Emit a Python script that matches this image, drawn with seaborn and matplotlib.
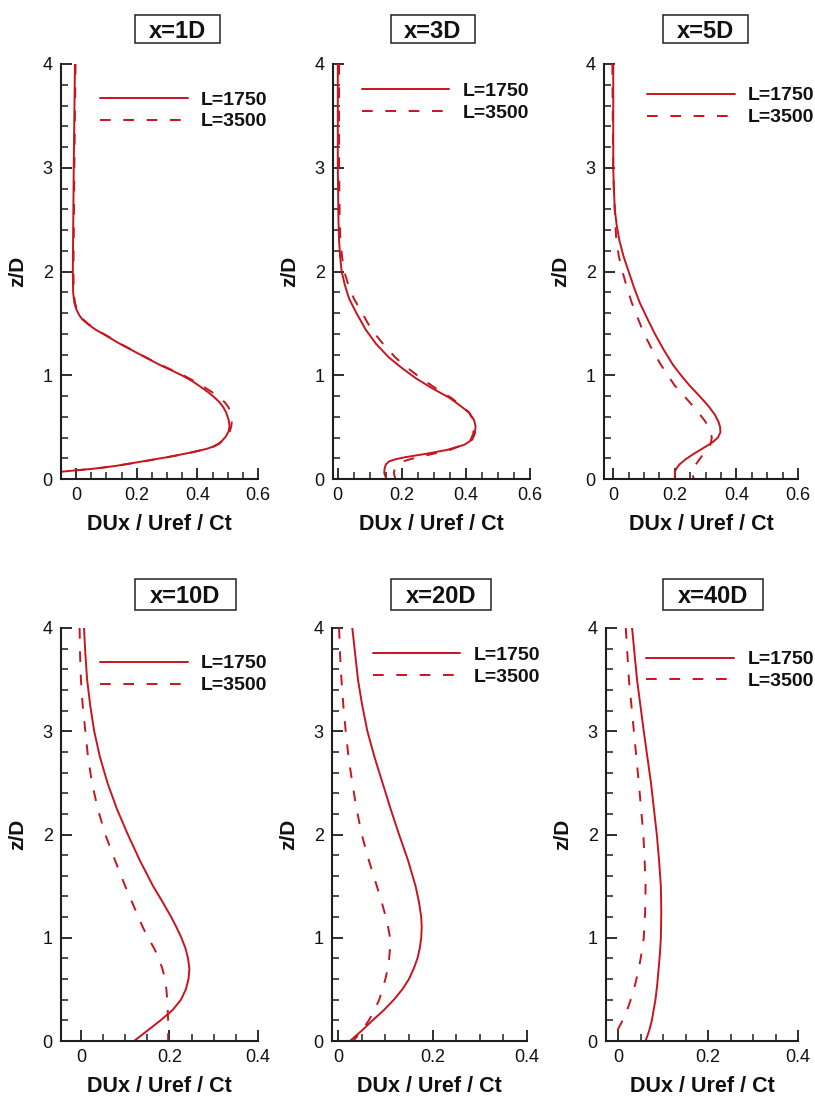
import numpy as np
import pandas as pd
import matplotlib
matplotlib.use("Agg")
import matplotlib.pyplot as plt
from matplotlib.patches import Rectangle
from matplotlib.ticker import MultipleLocator
import seaborn as sns

# ---------------- data ----------------
titles = ["x=1D", "x=3D", "x=5D", "x=10D", "x=20D", "x=40D"]
series_labels = ["L=1750", "L=3500"]
xlabel = "DUx / Uref / Ct"
ylabel = "z/D"

z_1D = [4.0, 3.0, 2.0, 1.8, 1.7, 1.64, 1.58, 1.54, 1.49, 1.44, 1.38, 1.31, 1.24, 1.17, 1.10,
        1.04, 0.99, 0.94, 0.89, 0.84, 0.79, 0.74, 0.69, 0.64, 0.57, 0.51, 0.46, 0.41, 0.37,
        0.34, 0.31, 0.29, 0.25, 0.21, 0.17, 0.126, 0.1, 0.07, 0.06]
u1750_1D = [-0.004, -0.008, -0.011, -0.01, -0.006, 0.0, 0.01, 0.02, 0.04, 0.064, 0.1, 0.14,
            0.185, 0.23, 0.276, 0.32, 0.355, 0.385, 0.41, 0.434, 0.455, 0.473, 0.486, 0.495,
            0.503, 0.506, 0.503, 0.494, 0.482, 0.47, 0.45, 0.43, 0.37, 0.30, 0.22, 0.13, 0.06,
            -0.05, -0.08]
u3500_1D = [-0.002, -0.006, -0.009, -0.008, -0.004, 0.002, 0.012, 0.022, 0.042, 0.066, 0.102,
            0.142, 0.187, 0.232, 0.279, 0.324, 0.36, 0.392, 0.42, 0.447, 0.47, 0.49, 0.503,
            0.51, 0.514, 0.512, 0.507, 0.497, 0.484, 0.472, 0.452, 0.432, 0.372, 0.302, 0.222,
            0.132, 0.062, -0.05, -0.08]

z_3D = [4.0, 3.0, 2.5, 2.3, 2.15, 2.0, 1.87, 1.74, 1.6, 1.44, 1.3, 1.17, 1.07, 0.97, 0.87,
        0.78, 0.7, 0.64, 0.57, 0.51, 0.44, 0.38, 0.33, 0.28, 0.245, 0.21, 0.19, 0.17, 0.14,
        0.1, 0.06, 0.03, 0.0]
u1750_3D = [0.0, 0.0, 0.002, 0.004, 0.007, 0.012, 0.022, 0.035, 0.058, 0.087, 0.12, 0.16, 0.2,
            0.244, 0.297, 0.35, 0.385, 0.41, 0.425, 0.43, 0.428, 0.42, 0.395, 0.34, 0.28, 0.21,
            0.18, 0.16, 0.15, 0.146, 0.145, 0.148, 0.152]
u3500_3D = [0.004, 0.004, 0.006, 0.008, 0.013, 0.02, 0.033, 0.05, 0.076, 0.105, 0.142, 0.18,
            0.218, 0.26, 0.308, 0.355, 0.388, 0.41, 0.422, 0.425, 0.423, 0.415, 0.392, 0.35,
            0.3, 0.25, 0.225, 0.205, 0.19, 0.178, 0.175, 0.177, 0.18]

z_5D = [4.0, 3.0, 2.8, 2.6, 2.45, 2.3, 2.15, 2.0, 1.85, 1.7, 1.55, 1.4, 1.25, 1.1, 1.0, 0.9,
        0.8, 0.7, 0.62, 0.55, 0.5, 0.45, 0.4, 0.36, 0.33, 0.29, 0.24, 0.19, 0.14, 0.1, 0.07,
        0.0]
u1750_5D = [0.0, 0.0, 0.002, 0.005, 0.011, 0.02, 0.033, 0.05, 0.067, 0.086, 0.11, 0.135, 0.163,
            0.194, 0.22, 0.248, 0.28, 0.31, 0.33, 0.342, 0.347, 0.348, 0.34, 0.325, 0.31, 0.288,
            0.26, 0.235, 0.215, 0.205, 0.2, 0.2]
u3500_5D = [-0.003, 0.0, 0.002, 0.005, 0.007, 0.01, 0.018, 0.03, 0.044, 0.06, 0.08, 0.1, 0.126,
            0.155, 0.177, 0.2, 0.23, 0.26, 0.282, 0.3, 0.31, 0.317, 0.32, 0.318, 0.315, 0.305,
            0.293, 0.28, 0.268, 0.258, 0.254, 0.262]

z_10D = [4.0, 3.75, 3.5, 3.25, 3.0, 2.75, 2.5, 2.25, 2.0, 1.75, 1.5, 1.35, 1.2, 1.1, 1.0,
         0.9, 0.8, 0.7, 0.6, 0.5, 0.4, 0.3, 0.2, 0.1, 0.0]
u1750_10D = [0.007, 0.01, 0.014, 0.021, 0.03, 0.043, 0.06, 0.081, 0.106, 0.133, 0.163, 0.184,
             0.204, 0.216, 0.227, 0.236, 0.242, 0.245, 0.243, 0.237, 0.226, 0.207, 0.18, 0.15,
             0.12]
u3500_10D = [-0.003, -0.002, 0.0, 0.004, 0.01, 0.016, 0.025, 0.038, 0.055, 0.077, 0.1, 0.115,
             0.13, 0.14, 0.152, 0.165, 0.176, 0.184, 0.19, 0.193, 0.195, 0.196, 0.197, 0.197,
             0.197]

z_20D = [4.0, 3.75, 3.5, 3.25, 3.0, 2.75, 2.5, 2.25, 2.0, 1.75, 1.5, 1.35, 1.2, 1.1, 1.0,
         0.9, 0.8, 0.7, 0.6, 0.5, 0.4, 0.3, 0.2, 0.1, 0.0]
u1750_20D = [0.03, 0.036, 0.042, 0.051, 0.062, 0.077, 0.094, 0.111, 0.129, 0.148, 0.164, 0.171,
             0.176, 0.177, 0.176, 0.173, 0.168, 0.16, 0.15, 0.136, 0.118, 0.097, 0.073, 0.05,
             0.025]
u3500_20D = [0.002, 0.004, 0.007, 0.011, 0.016, 0.022, 0.03, 0.039, 0.05, 0.065, 0.082, 0.092,
             0.101, 0.106, 0.11, 0.11, 0.108, 0.105, 0.1, 0.094, 0.087, 0.077, 0.065, 0.05,
             0.032]

z_40D = [4.0, 3.5, 3.0, 2.5, 2.0, 1.75, 1.5, 1.25, 1.0, 0.85, 0.7, 0.55, 0.4, 0.3, 0.2, 0.1,
         0.0]
u1750_40D = [0.031, 0.042, 0.057, 0.073, 0.086, 0.091, 0.095, 0.096, 0.095, 0.093, 0.09, 0.087,
             0.083, 0.079, 0.075, 0.069, 0.061]
u3500_40D = [0.017, 0.024, 0.035, 0.046, 0.056, 0.059, 0.061, 0.06, 0.057, 0.052, 0.046, 0.038,
             0.028, 0.02, 0.01, -0.002, -0.016]

x_ticks_top = [0, 0.2, 0.4, 0.6]
x_ticks_bottom = [0, 0.2, 0.4]
y_ticks = [0, 1, 2, 3, 4]

panels = [
    (z_1D, u1750_1D, u3500_1D),
    (z_3D, u1750_3D, u3500_3D),
    (z_5D, u1750_5D, u3500_5D),
    (z_10D, u1750_10D, u3500_10D),
    (z_20D, u1750_20D, u3500_20D),
    (z_40D, u1750_40D, u3500_40D),
]

# ---------------- layout / style ----------------
W, H = 815, 1102
sns.set_theme(style="white")
plt.rcParams["font.family"] = ["Liberation Sans", "DejaVu Sans"]

RED = "#c8141e"
SPINE = "#1e1e1e"

fig = plt.figure(figsize=(W / 100, H / 100), dpi=100)

# axes pixel boxes: (left, right, top, bottom)
boxes = [
    (61, 258, 64, 479), (333, 530, 64, 479), (604, 798, 64, 479),
    (61, 258, 628, 1041), (332, 527, 628, 1041), (606, 798, 628, 1041),
]
xlims = [(-0.05, 0.6), (-0.015, 0.6), (-0.03, 0.6),
         (-0.045, 0.4), (-0.013, 0.4), (-0.027, 0.4)]
legend_anchor = [(0.198, 0.935), (0.147, 0.955), (0.222, 0.945),
                 (0.198, 0.935), (0.21, 0.955), (0.21, 0.945)]
title_pos = [(177, 29, 85), (433, 29, 84), (705, 29, 85),
             (185, 594, 101), (441, 594, 100), (713, 594, 100)]
title_h = [28, 28, 28, 31, 31, 31]

for i, (z, s1, s2) in enumerate(panels):
    l, r, t, b = boxes[i]
    ax = fig.add_axes([l / W, 1 - b / H, (r - l) / W, (b - t) / H])
    df1 = pd.DataFrame({"u": s1, "z": z})
    df2 = pd.DataFrame({"u": s2, "z": z})
    sns.lineplot(data=df1, x="u", y="z", orient="y", sort=False, estimator=None,
                 color=RED, lw=1.4, ax=ax, label=series_labels[0])
    sns.lineplot(data=df2, x="u", y="z", orient="y", sort=False, estimator=None,
                 color=RED, lw=1.4, linestyle=(0, (5.5, 6.5)), ax=ax,
                 label=series_labels[1])
    for ln in ax.get_lines():
        ln.set_solid_joinstyle("round")
        ln.set_dash_joinstyle("round")
    ax.set_xlim(*xlims[i])
    ax.set_ylim(0, 4)
    xt = x_ticks_top if i < 3 else x_ticks_bottom
    ax.set_xticks(xt)
    ax.set_xticklabels(["0" if v == 0 else f"{v:g}" for v in xt])
    ax.set_yticks(y_ticks)
    ax.xaxis.set_minor_locator(MultipleLocator(0.05))
    ax.yaxis.set_minor_locator(MultipleLocator(0.2))
    ax.tick_params(axis="both", which="major", direction="in", length=8, width=1.3,
                   color=SPINE, labelsize=13, pad=6, labelcolor="#111111")
    ax.tick_params(axis="both", which="minor", direction="in", length=5, width=1.1,
                   color=SPINE)
    ax.tick_params(axis="x", which="both", bottom=True, top=False)
    ax.tick_params(axis="y", which="both", left=True, right=False)
    for side in ["top", "right"]:
        ax.spines[side].set_visible(False)
    for side in ["left", "bottom"]:
        ax.spines[side].set_linewidth(1.5)
        ax.spines[side].set_color(SPINE)
    ax.set_xlabel(xlabel, fontsize=15.5, fontweight="bold", labelpad=7, color="#111111")
    ax.set_ylabel(ylabel, fontsize=15, fontweight="bold", labelpad=11, color="#111111")
    ax.set_facecolor("white")
    leg = ax.legend(loc="upper left", bbox_to_anchor=legend_anchor[i], frameon=False,
                    handlelength=4.5, handletextpad=0.7, labelspacing=0.22,
                    borderpad=0, borderaxespad=0,
                    prop={"size": 14, "weight": "bold"})
    for txt in leg.get_texts():
        txt.set_color("#111111")

    cx, cy, bw = title_pos[i]
    bh = title_h[i]
    fig.add_artist(Rectangle(((cx - bw / 2) / W, 1 - (cy + bh / 2) / H), bw / W, bh / H,
                             transform=fig.transFigure, fill=True, facecolor="white",
                             edgecolor="#222222", lw=1.1))
    fig.text(cx / W, 1 - cy / H, titles[i], ha="center", va="center_baseline",
             fontsize=17, fontweight="bold", color="#111111")

fig.savefig("out.png", dpi=100, facecolor="white")
